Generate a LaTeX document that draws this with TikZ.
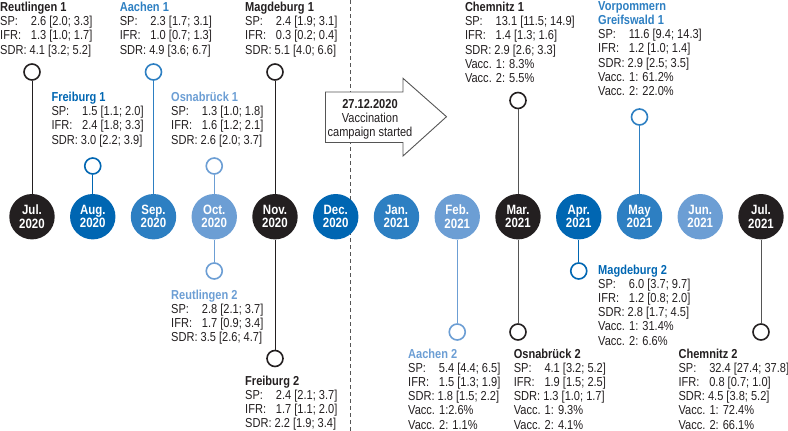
\documentclass[tikz,border=0pt]{standalone}
\usepackage{fontspec}
\setmainfont{Liberation Sans}[FakeStretch=0.85]
\definecolor{cblack}{RGB}{35,31,32}
\definecolor{cdark}{RGB}{0,102,178}
\definecolor{cmid}{RGB}{45,127,194}
\definecolor{clight}{RGB}{108,158,212}
\definecolor{cgray}{RGB}{85,85,85}
\newcommand\sv[2]{\makebox[30.7pt][l]{#1}#2}
\newcommand\ttl[2]{{\bfseries\color{#1}#2}}
\begin{document}
\begin{tikzpicture}[x=1pt,y=-1pt,
 month/.style={circle, minimum size=45.4pt, inner sep=0pt, text=white, font=\fontsize{13.5}{13.3}\selectfont\bfseries, align=center},
 marker/.style={circle, minimum size=16pt, inner sep=0pt, line width=1.6pt, fill=white},
 stem/.style={line width=1.0pt},
 lbl/.style={anchor=north west, inner sep=0pt, align=left, font=\fontsize{13}{14.15}\selectfont, text=cblack},
]
\useasboundingbox (0,0) rectangle (788,431);
% dashed separator
\coordinate (dtop) at (350.5,0);
\coordinate (dbot) at (350.5,431);
\draw[cgray, line width=0.8pt, dash pattern=on 4pt off 3pt] (dtop) -- (dbot);

% month circles
\node[month, fill=cblack] (m0)  at (32,216.7)     {Jul.\\2020};
\node[month, fill=cdark]  (m1)  at (92.75,216.7)  {Aug.\\2020};
\node[month, fill=cmid]   (m2)  at (153.5,216.7)  {Sep.\\2020};
\node[month, fill=clight] (m3)  at (214.25,216.7) {Oct.\\2020};
\node[month, fill=cblack] (m4)  at (275,216.7)    {Nov.\\2020};
\node[month, fill=cdark]  (m5)  at (335.75,216.7) {Dec.\\2020};
\node[month, fill=cmid]   (m6)  at (396.5,216.7)  {Jan.\\2021};
\node[month, fill=clight] (m7)  at (457.25,216.7) {Feb.\\2021};
\node[month, fill=cblack] (m8)  at (518,216.7)    {Mar.\\2021};
\node[month, fill=cdark]  (m9)  at (578.75,216.7) {Apr.\\2021};
\node[month, fill=cmid]   (m10) at (639.5,216.7)  {May\\2021};
\node[month, fill=clight] (m11) at (700.25,216.7) {Jun.\\2021};
\node[month, fill=cblack] (m12) at (761,216.7)    {Jul.\\2021};

% markers
\node[marker, draw=cblack] (k1)  at (32,72)      {};
\node[marker, draw=cdark]  (k2)  at (92.75,166)  {};
\node[marker, draw=cmid]   (k3)  at (153.5,72)   {};
\node[marker, draw=clight] (k4)  at (214.25,166) {};
\node[marker, draw=cblack] (k5)  at (275,72)     {};
\node[marker, draw=cblack] (k6)  at (518,100.5)  {};
\node[marker, draw=cmid]   (k7)  at (639.5,117)  {};
\node[marker, draw=clight] (k8)  at (214.25,271) {};
\node[marker, draw=cblack] (k9)  at (275,358.5)  {};
\node[marker, draw=clight] (k10) at (457.25,332) {};
\node[marker, draw=cblack] (k11) at (518,332)    {};
\node[marker, draw=cdark]  (k12) at (578.75,271) {};
\node[marker, draw=cblack] (k13) at (761,332)    {};

% stems
\draw[stem, cblack] (m0) -- (k1);
\draw[stem, cdark]  (m1) -- (k2);
\draw[stem, cmid]   (m2) -- (k3);
\draw[stem, clight] (m3) -- (k4);
\draw[stem, cblack] (m4) -- (k5);
\draw[stem, cgray]  (m8) -- (k6);
\draw[stem, cmid]   (m10) -- (k7);
\draw[stem, clight] (m3) -- (k8);
\draw[stem, cblack] (m4) -- (k9);
\draw[stem, clight] (m7) -- (k10);
\draw[stem, cgray]  (m8) -- (k11);
\draw[stem, cdark]  (m9) -- (k12);
\draw[stem, cgray]  (m12) -- (k13);

% vaccination arrow
\draw[cgray, line width=0.9pt, fill=white, line join=miter]
  (325.5,92) -- (403,92) -- (403,78.3) -- (446.5,116.7) -- (403,156) -- (403,142.5) -- (325.5,142.5) -- cycle;
\node[anchor=north, inner sep=0pt, align=center, font=\fontsize{13}{14.2}\selectfont, text=cblack] (arrowtext) at (370,99.3)
  {{\bfseries 27.12.2020}\\Vaccination\\campaign started};

% labels
\node[lbl] (t1) at (0,2.0) {\ttl{cblack}{Reutlingen 1}\\\sv{SP:}{2.6 [2.0; 3.3]}\\\sv{IFR:}{1.3 [1.0; 1.7]}\\SDR: 4.1 [3.2; 5.2]};
\node[lbl] (t3) at (119.6,2.0) {\ttl{cmid}{Aachen 1}\\\sv{SP:}{2.3 [1.7; 3.1]}\\\sv{IFR:}{1.0 [0.7; 1.3]}\\SDR: 4.9 [3.6; 6.7]};
\node[lbl] (t5) at (245,2.0) {\ttl{cblack}{Magdeburg 1}\\\sv{SP:}{2.4 [1.9; 3.1]}\\\sv{IFR:}{0.3 [0.2; 0.4]}\\SDR: 5.1 [4.0; 6.6]};
\node[lbl] (t2) at (51.3,92) {\ttl{cdark}{Freiburg 1}\\\sv{SP:}{1.5 [1.1; 2.0]}\\\sv{IFR:}{2.4 [1.8; 3.3]}\\SDR: 3.0 [2.2; 3.9]};
\node[lbl] (t4) at (171,92) {\ttl{clight}{Osnabrück 1}\\\sv{SP:}{1.3 [1.0; 1.8]}\\\sv{IFR:}{1.6 [1.2; 2.1]}\\SDR: 2.6 [2.0; 3.7]};
\node[lbl] (t6) at (464.8,2.0) {\ttl{cblack}{Chemnitz 1}\\\sv{SP:}{13.1 [11.5; 14.9]}\\\sv{IFR:}{1.4 [1.3; 1.6]}\\SDR: 2.9 [2.6; 3.3]\\Vacc. 1: 8.3\%\\Vacc. 2: 5.5\%};
\node[lbl] (t7) at (598,1.4) {\ttl{cmid}{Vorpommern}\\\ttl{cmid}{Greifswald 1}\\\sv{SP:}{11.6 [9.4; 14.3]}\\\sv{IFR:}{1.2 [1.0; 1.4]}\\SDR: 2.9 [2.5; 3.5]\\Vacc. 1: 61.2\%\\Vacc. 2: 22.0\%};
\node[lbl] (t8) at (171,289.7) {\ttl{clight}{Reutlingen 2}\\\sv{SP:}{2.8 [2.1; 3.7]}\\\sv{IFR:}{1.7 [0.9; 3.4]}\\SDR: 3.5 [2.6; 4.7]};
\node[lbl] (t9) at (245,375.4) {\ttl{cblack}{Freiburg 2}\\\sv{SP:}{2.4 [2.1; 3.7]}\\\sv{IFR:}{1.7 [1.1; 2.0]}\\SDR: 2.2 [1.9; 3.4]};
\node[lbl] (t10) at (408,348.7) {\ttl{clight}{Aachen 2}\\\sv{SP:}{5.4 [4.4; 6.5]}\\\sv{IFR:}{1.5 [1.3; 1.9]}\\SDR: 1.8 [1.5; 2.2]\\Vacc. 1:2.6\%\\Vacc. 2: 1.1\%};
\node[lbl] (t11) at (513.6,348.7) {\ttl{cblack}{Osnabrück 2}\\\sv{SP:}{4.1 [3.2; 5.2]}\\\sv{IFR:}{1.9 [1.5; 2.5]}\\SDR: 1.3 [1.0; 1.7]\\Vacc. 1: 9.3\%\\Vacc. 2: 4.1\%};
\node[lbl] (t12) at (598,264.7) {\ttl{cdark}{Magdeburg 2}\\\sv{SP:}{6.0 [3.7; 9.7]}\\\sv{IFR:}{1.2 [0.8; 2.0]}\\SDR: 2.8 [1.7; 4.5]\\Vacc. 1: 31.4\%\\Vacc. 2: 6.6\%};
\node[lbl] (t13) at (678.4,348.7) {\ttl{cblack}{Chemnitz 2}\\\sv{SP:}{32.4 [27.4; 37.8]}\\\sv{IFR:}{0.8 [0.7; 1.0]}\\SDR: 4.5 [3.8; 5.2]\\Vacc. 1: 72.4\%\\Vacc. 2: 66.1\%};
\end{tikzpicture}
\end{document}
